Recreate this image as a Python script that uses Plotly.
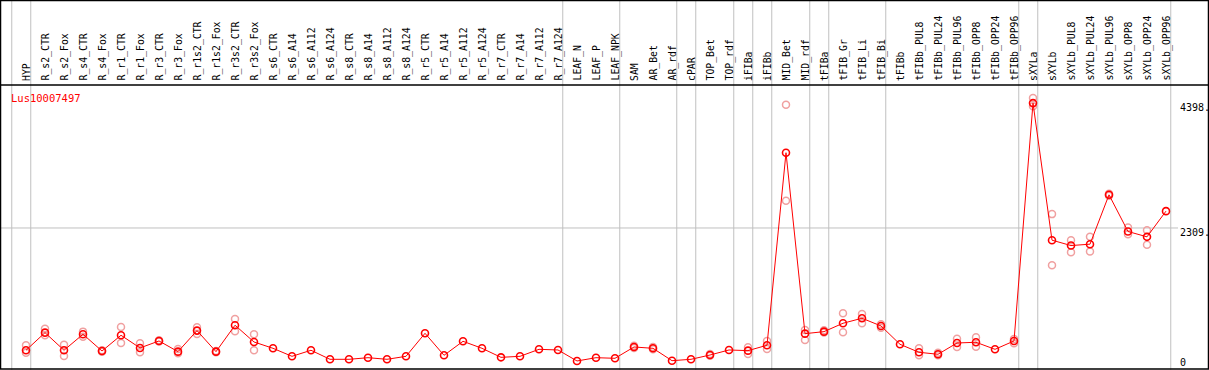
import plotly.graph_objects as go

samples = ["HYP", "R_s2_CTR", "R_s2_Fox", "R_s4_CTR", "R_s4_Fox", "R_r1_CTR", "R_r1_Fox",
           "R_r3_CTR", "R_r3_Fox", "R_r1s2_CTR", "R_r1s2_Fox", "R_r3s2_CTR", "R_r3s2_Fox",
           "R_s6_CTR", "R_s6_A14", "R_s6_A112", "R_s6_A124", "R_s8_CTR", "R_s8_A14", "R_s8_A112",
           "R_s8_A124", "R_r5_CTR", "R_r5_A14", "R_r5_A112", "R_r5_A124", "R_r7_CTR", "R_r7_A14",
           "R_r7_A112", "R_r7_A124", "LEAF_N", "LEAF_P", "LEAF_NPK", "SAM", "AR_Bet", "AR_rdf",
           "cPAR", "TOP_Bet", "TOP_rdf", "iFIBa", "iFIBb", "MID_Bet", "MID_rdf", "tFIBa",
           "tFIB_Gr", "tFIB_Li", "tFIB_Bi", "tFIBb", "tFIBb_PUL8", "tFIBb_PUL24", "tFIBb_PUL96",
           "tFIBb_OPP8", "tFIBb_OPP24", "tFIBb_OPP96", "sXYLa", "sXYLb", "sXYLb_PUL8",
           "sXYLb_PUL24", "sXYLb_PUL96", "sXYLb_OPP8", "sXYLb_OPP24", "sXYLb_OPP96"]

mean_values = [263, 558, 263, 531, 251, 514, 302, 419, 240, 592, 240, 682, 402,
               296, 162, 263, 112, 112, 139, 112, 162, 547, 179, 413, 296, 145, 162,
               279, 268, 84, 139, 129, 318, 296, 89, 112, 184, 268, 257, 347, 3568, 541,
               575, 715, 799, 670, 363, 229, 196, 385, 397, 279, 419, 4398, 2105, 2015,
               2038, 2864, 2250, 2161, 2591]

rep_a = [347, 625, 357, 575, 262, 653, 380, 430, 285, 648, 251, 787, 531,
         None, None, None, None, None, None, None, None, None, None, None, None, None, None,
         None, None, None, None, None, 340, 318, None, None, 200, None, 313, 419, 4372, 603,
         600, 883, 871, 700, None, 296, 220, 457, 481, None, 452, 4484, 2541, 2105,
         2161, 2880, 2317, 2273, None]

rep_b = [223, 514, 167, 491, 240, 385, 229, 408, 212, 536, 229, 581, 263,
         None, None, None, None, None, None, None, None, None, None, None, None, None, None,
         None, None, None, None, None, 300, 279, None, None, 170, None, 201, 285, 2764, 436,
         560, 564, 715, 640, None, 179, 180, 318, 324, None, 380, 4344, 1687, 1904,
         1915, 2850, 2206, 2027, None]

separators_after = [-1, 0, 28, 31, 34, 35, 37, 38, 39, 41, 42, 45, 52, 53, 60]
axis_ticks = [0, 2309, 4398]
axis_tick_text = ["0", "2309.", "4398."]
title_text = "Lus10007497"

W, H = 1209, 370
x0_px, step_px = 26, 19
zero_px, units_per_px = 366, 16.73

def py(p):
    return 1 - p / H

idx = list(range(len(samples)))
FONT = "DejaVu Sans Mono"

fig = go.Figure()

rx, ry = [], []
for i in idx:
    for r in (rep_a[i], rep_b[i]):
        if r is not None:
            rx.append(i)
            ry.append(r)

fig.add_trace(go.Scatter(x=rx, y=ry, mode="markers",
                         marker=dict(symbol="circle-open", size=7, color="#f0a0a0",
                                     line=dict(width=1.5, color="#f0a0a0")),
                         hoverinfo="skip", showlegend=False))
fig.add_trace(go.Scatter(x=idx, y=mean_values, mode="lines+markers",
                         line=dict(color="#ff0000", width=1),
                         marker=dict(symbol="circle-open", size=7, color="#ff0000",
                                     line=dict(width=1.6, color="#ff0000")),
                         showlegend=False))

shapes = []
for s in separators_after:
    shapes.append(dict(type="line", xref="x", yref="paper", x0=s + 0.25, x1=s + 0.25,
                       y0=0, y1=1, line=dict(color="#c0c0c0", width=1), layer="below"))
shapes.append(dict(type="line", xref="paper", yref="y", x0=0, x1=1178 / W,
                   y0=axis_ticks[1], y1=axis_ticks[1], line=dict(color="#c0c0c0", width=1),
                   layer="below"))
# header separator and frame
shapes.append(dict(type="line", xref="paper", yref="paper", x0=0, x1=1, y0=py(85), y1=py(85),
                   line=dict(color="black", width=1.5)))
shapes.append(dict(type="rect", xref="paper", yref="paper", x0=0.5 / W, x1=1 - 0.5 / W,
                   y0=1 / H, y1=1 - 0.5 / H, line=dict(color="black", width=1.5)))

annotations = []
for i, s in enumerate(samples):
    annotations.append(dict(x=i, y=py(83), xref="x", yref="paper", text=s, textangle=-90,
                            showarrow=False, xanchor="center", yanchor="bottom",
                            font=dict(family=FONT, size=9.8, color="black")))
annotations.append(dict(x=9 / W, y=py(90), xref="paper", yref="paper", text=title_text,
                        showarrow=False, xanchor="left", yanchor="top",
                        font=dict(family=FONT, size=10.5, color="#ff0000")))
for v, t in zip(axis_ticks, axis_tick_text):
    annotations.append(dict(x=1178 / W, y=v, xref="paper", yref="y", text=t, showarrow=False,
                            xanchor="left", yanchor="middle",
                            yshift=4 if v == 0 else -4.5,
                            font=dict(family=FONT, size=10, color="black")))

fig.update_layout(
    width=W, height=H, margin=dict(l=0, r=0, t=0, b=0),
    paper_bgcolor="white", plot_bgcolor="white",
    xaxis=dict(range=[-x0_px / step_px, (W - x0_px) / step_px], visible=False, fixedrange=True),
    yaxis=dict(range=[-(H - zero_px) * units_per_px, zero_px * units_per_px], visible=False,
               fixedrange=True),
    shapes=shapes, annotations=annotations, showlegend=False,
)

fig.write_html("out.html", config={"displayModeBar": False},
               post_script="document.body.style.margin='0';document.body.style.overflow='hidden';")
